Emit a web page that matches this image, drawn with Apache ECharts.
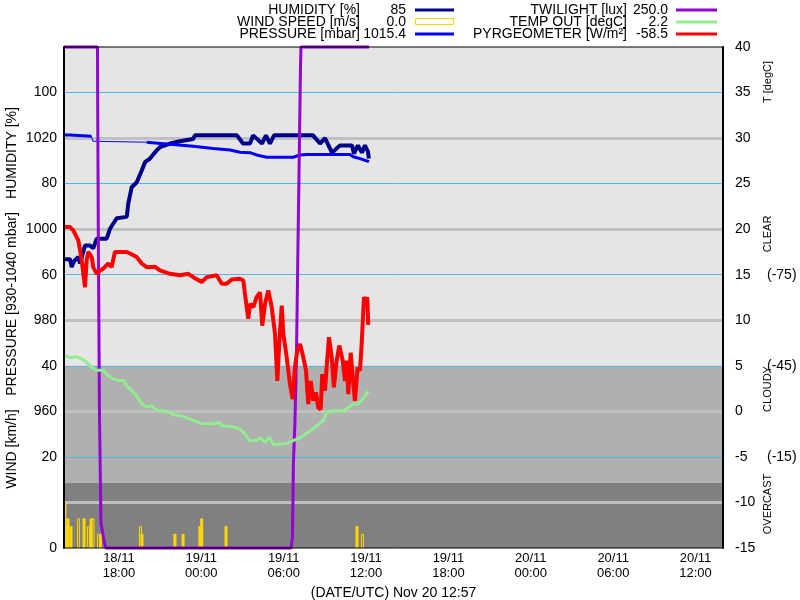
<!DOCTYPE html>
<html><head><meta charset="utf-8">
<script src="https://cdn.jsdelivr.net/npm/echarts@6/dist/echarts.min.js"></script>
<style>html,body{margin:0;padding:0;background:#fff}#c{width:800px;height:600px}</style>
</head><body><div id="c"></div>
<script>
// time in hours since 18/11 00:00 UTC
const xTickHours = [18, 24, 30, 36, 42, 48, 54, 60];
const xTickLabels = ['18/11\n18:00', '19/11\n00:00', '19/11\n06:00', '19/11\n12:00', '19/11\n18:00', '20/11\n00:00', '20/11\n06:00', '20/11\n12:00'];
const pressureTicks = [960, 980, 1000, 1020];
const pressureGrid = [940, 960, 980, 1000, 1020];
const humidityGrid = [20, 40, 60, 80, 100];
const pyrTicks = [-75, -45, -15];
const skyBands = [[-150, -45], [-45, -6.5], [-6.5, 15]];

const humTime = [14.0,14.22,14.44,14.56,14.66,14.8,15.04,15.17,15.53,15.89,16.13,16.38,17.11,17.35,17.84,18.57,18.68,18.93,19.3,19.66,19.9,20.26,20.75,20.99,21.72,22.45,23.4,23.54,26.6,27.04,27.55,27.77,28.42,28.71,29.0,29.3,32.14,32.65,33.01,33.52,34.1,34.98,35.12,35.41,35.7,35.92,36.14,36.21];
const humVal = [63.4,63.4,63.4,61.7,62.5,63.2,63.9,62.5,66.4,66.4,65.8,67.9,67.9,70.1,72.4,72.7,75.6,79.2,80.3,82.9,84.7,85.5,87.3,88.0,88.8,89.3,89.8,90.6,90.6,88.8,88.8,90.6,88.8,90.6,88.8,90.6,90.6,88.8,90.0,86.8,88.4,88.4,86.6,88.4,86.8,88.4,87.0,85.5];

const pressTime = [14.0,14.44,14.46,16.0,18.0,20.02,21.48,23.42,24.87,26.09,26.82,27.55,28.03,28.76,30.7,31.19,31.68,34.83,35.07,35.56,36.16,36.21];
const pressVal = [1020.7,1020.7,1020.4,1020.4,null,1019.1,1018.7,1018.2,1017.7,1017.4,1016.9,1016.8,1016.3,1015.8,1015.8,1016.3,1016.4,1016.4,1015.9,1015.5,1014.9,1014.8];
const pressGapTime = [16.0, 16.1, 20.02];
const pressGapVal = [1020.4, 1019.3, 1019.1];

const twTime = [14.0,16.44,16.45,16.51,16.58,16.69,16.88,16.99,17.06,30.53,30.64,30.71,30.82,30.93,31.04,31.15,31.22,31.26,36.21];
const twVal = [100,100,91,58,28,5,2,0.5,0,0,2,17,25,38,60,81,95,100,100];

const tempTime = [14.0,14.44,14.92,15.29,15.65,16.02,16.38,16.86,17.23,17.59,17.95,18.32,18.57,18.93,19.3,19.66,20.02,20.39,20.75,21.48,22.08,22.69,23.18,23.91,24.87,25.24,25.6,26.33,26.82,27.18,27.55,28.03,28.28,28.64,28.95,29.24,29.73,30.22,30.7,31.19,31.79,32.4,32.89,33.13,33.61,34.34,34.71,35.07,35.44,35.68,35.92,36.16];
const tempVal = [6.1,5.9,6.0,5.75,5.4,4.8,4.5,4.5,3.9,3.55,3.4,3.4,2.8,2.3,1.7,0.8,0.5,0.6,0.14,0.0,-0.4,-0.55,-0.85,-1.3,-1.4,-1.2,-1.6,-1.7,-1.95,-2.5,-3.2,-3.2,-2.9,-3.4,-2.8,-3.6,-3.6,-3.5,-3.2,-2.9,-2.3,-1.6,-1.0,-0.1,0.07,0.07,0.4,0.8,0.8,1.2,1.7,2.2];

const pyrTime = [14.0,14.2,14.44,14.68,15.04,15.17,15.29,15.41,15.53,15.65,15.77,16.02,16.13,16.38,16.62,16.86,17.23,17.47,17.71,18.57,18.81,19.3,19.66,20.02,20.63,20.99,21.72,22.45,23.05,23.42,24.03,24.4,25.12,25.49,25.85,26.21,26.82,27.06,27.18,27.42,27.55,27.79,28.03,28.28,28.44,28.64,28.88,29.13,29.37,29.54,29.66,29.86,29.98,30.22,30.34,30.46,30.66,30.82,30.99,31.19,31.43,31.63,31.79,31.97,32.16,32.35,32.52,32.7,32.81,33.01,33.13,33.3,33.5,33.66,33.86,34.05,34.3,34.47,34.59,34.71,34.88,35.03,35.19,35.39,35.56,35.68,35.85,36.0,36.09,36.16];
const pyrVal = [-90.7,-90.7,-90.7,-89.6,-86.3,-83,-79.7,-79.7,-70.9,-79.7,-82.5,-80.8,-77.5,-75.3,-76.4,-77,-78.7,-77.5,-82.5,-82.5,-82,-80.8,-78.7,-77.5,-77.6,-76.4,-75.3,-74.8,-75.3,-74.2,-72.6,-74.2,-74.8,-72,-72,-73.4,-73.7,-73.1,-68.7,-60.5,-65.4,-64.3,-67.6,-69.2,-58.2,-65.4,-69.8,-64.3,-55.5,-40,-51.1,-64.8,-55.5,-47.8,-43.4,-39,-34,-44.5,-50,-52.2,-47.8,-43.4,-32.4,-40,-33.5,-36.3,-31.2,-30.7,-42.3,-36.8,-44.5,-54.4,-47.8,-37.9,-46.7,-51.7,-46.7,-40,-46.7,-35.7,-49.3,-41.1,-33.5,-44.5,-43.4,-52.2,-67.6,-66.5,-67.6,-58.5];

const windTime = [14.07,14.25,14.29,14.51,15.06,15.46,15.78,15.97,16.11,16.51,16.66,19.57,19.68,22.08,22.67,23.9,24.03,25.8,35.34,35.74];
const windVal = [10.1,4.8,6.5,4.8,6.5,6.5,4.8,6.5,6.5,3.1,3.1,4.8,3.1,3.1,3.1,4.8,6.5,4.8,4.8,3.1];
const windHollow = [0,1,0,0,1,0,1,0,1,1,0,1,0,0,0,0,0,0,0,1];

const legendNames = ['HUMIDITY [%]', 'WIND SPEED [m/s]', 'PRESSURE [mbar]', 'TWILIGHT [lux]', 'TEMP OUT [degC]', 'PYRGEOMETER [W/m\u00B2]'];
const legendValues = ['85', '0.0', '1015.4', '250.0', '2.2', '-58.5'];
const legendColors = ['#00008b', '#ffd700', '#0000ff', '#9400d3', '#90ee90', '#ff0000'];

const FONT = 'Liberation Sans, Arial, sans-serif';
const pairs = (t, v) => t.map((x, i) => [x, v[i]]);

const chart = echarts.init(document.getElementById('c'), null, {renderer: 'canvas'});

const graphics = [];
legendNames.forEach((name, i) => {
  const col = i < 3 ? 0 : 1, row = i % 3;
  const y = 10 + row * 12;
  const nameRight = col === 0 ? 360 : 627;
  const valRight = col === 0 ? 406 : 668;
  const sx1 = col === 0 ? 415 : 676, sx2 = col === 0 ? 454 : 717;
  graphics.push({type: 'text', x: nameRight, y: y, style: {text: name, font: '14px ' + FONT, fill: '#000', align: 'right', verticalAlign: 'middle'}});
  graphics.push({type: 'text', x: valRight, y: y, style: {text: legendValues[i], font: '14px ' + FONT, fill: '#000', align: 'right', verticalAlign: 'middle'}});
  if (i === 1) {
    graphics.push({type: 'rect', shape: {x: sx1 + 0.5, y: y - 3.5, width: sx2 - sx1 - 1, height: 6}, style: {fill: 'none', stroke: legendColors[i], lineWidth: 1}});
  } else {
    graphics.push({type: 'line', shape: {x1: sx1, y1: y, x2: sx2, y2: y}, style: {stroke: legendColors[i], lineWidth: 3}});
  }
});
const rotTexts = [
  ['HUMIDITY [%]', 12, 153, 14], ['PRESSURE [930-1040 mbar]', 12, 304, 14], ['WIND [km/h]', 12, 449, 14],
  ['T [degC]', 768, 82, 11], ['CLEAR', 768, 234, 11], ['CLOUDY', 768, 389, 11], ['OVERCAST', 768, 504, 11]
];
rotTexts.forEach(([t, x, y, fs]) => {
  graphics.push({type: 'text', x: x, y: y, rotation: Math.PI / 2, style: {text: t, font: fs + 'px ' + FONT, fill: '#000', align: 'center', verticalAlign: 'middle'}});
});

const option = {
  animation: false,
  backgroundColor: '#fff',
  grid: {left: 64, top: 47, right: 77, bottom: 52, outerBoundsMode: 'none', containLabel: false, show: true, borderColor: '#000', borderWidth: 1, z: 10, backgroundColor: 'transparent'},
  xAxis: {
    type: 'value', min: 14, max: 62,
    axisLine: {show: false}, axisTick: {show: false}, splitLine: {show: false},
    axisLabel: {customValues: xTickHours, formatter: v => xTickLabels[xTickHours.indexOf(v)], color: '#000', fontFamily: FONT, fontSize: 13, lineHeight: 15, margin: 3},
    name: '(DATE/UTC) Nov 20 12:57', nameLocation: 'middle', nameGap: 35,
    nameTextStyle: {color: '#000', fontFamily: FONT, fontSize: 14}
  },
  yAxis: [
    { // 0 humidity / wind
      type: 'value', position: 'left', min: 0, max: 110, interval: 20,
      axisLine: {show: true, lineStyle: {color: '#000', width: 2}}, axisTick: {show: false}, splitLine: {show: false},
      axisLabel: {showMaxLabel: false, color: '#000', fontFamily: FONT, fontSize: 14, margin: 7}, z: 10
    },
    { // 1 pressure
      type: 'value', position: 'left', min: 930, max: 1040,
      axisLine: {show: false}, axisTick: {show: false}, splitLine: {show: false},
      axisLabel: {customValues: pressureTicks, formatter: v => String(v), color: '#000', fontFamily: FONT, fontSize: 14, margin: 7}
    },
    { // 2 temperature
      type: 'value', position: 'right', min: -15, max: 40, interval: 5,
      axisLine: {show: true, lineStyle: {color: '#000', width: 2}}, axisTick: {show: false}, splitLine: {show: false},
      axisLabel: {color: '#000', fontFamily: FONT, fontSize: 14, margin: 12}, z: 10
    },
    { // 3 pyrgeometer (inverted)
      type: 'value', position: 'right', offset: 40, inverse: true, min: -150, max: 15,
      axisLine: {show: false}, axisTick: {show: false}, splitLine: {show: false},
      axisLabel: {customValues: pyrTicks, formatter: v => '(' + v + ')', color: '#000', fontFamily: FONT, fontSize: 14, margin: 4}
    },
    { // 4 twilight
      type: 'value', show: false, min: 0, max: 100
    }
  ],
  graphic: graphics,
  series: [
    {
      type: 'line', yAxisIndex: 3, data: [], silent: true,
      markArea: {silent: true, z: 1, data: skyBands.map((b, i) => [{yAxis: b[0], itemStyle: {color: ['#e5e5e5', '#b0b0b0', '#808080'][i]}}, {yAxis: b[1]}])}
    },
    {
      type: 'line', yAxisIndex: 0, data: [], silent: true,
      markLine: {silent: true, z: 2, symbol: 'none', label: {show: false}, lineStyle: {color: '#56b4e9', width: 1, type: 'solid'}, data: humidityGrid.map(v => ({yAxis: v}))}
    },
    {
      type: 'line', yAxisIndex: 1, data: [], silent: true,
      markLine: {silent: true, z: 2, symbol: 'none', label: {show: false}, lineStyle: {color: '#c0c0c0', width: 3, type: 'solid'}, data: pressureGrid.map(v => ({yAxis: v}))}
    },
    {
      name: 'WIND', type: 'bar', yAxisIndex: 0, z: 3, barWidth: 3,
      data: windTime.map((t, i) => ({value: [t, windVal[i]], itemStyle: windHollow[i] ? {color: 'rgba(0,0,0,0)', borderColor: '#ffd700', borderWidth: 1} : {color: '#ffd700'}}))
    },
    {
      name: 'HUMIDITY', type: 'line', yAxisIndex: 0, z: 4, symbol: 'none',
      lineStyle: {color: '#00008b', width: 4}, data: pairs(humTime, humVal)
    },
    {
      name: 'PRESSURE', type: 'line', yAxisIndex: 1, z: 5, symbol: 'none', connectNulls: false,
      lineStyle: {color: '#0000ff', width: 3}, data: pairs(pressTime, pressVal)
    },
    {
      name: 'PRESSURE GAP', type: 'line', yAxisIndex: 1, z: 5, symbol: 'none',
      lineStyle: {color: '#0000ff', width: 1}, data: pairs(pressGapTime, pressGapVal)
    },
    {
      name: 'TWILIGHT', type: 'line', yAxisIndex: 4, z: 6, symbol: 'none', clip: false,
      lineStyle: {color: '#9400d3', width: 3}, data: pairs(twTime, twVal)
    },
    {
      name: 'TEMP', type: 'line', yAxisIndex: 2, z: 7, symbol: 'none',
      lineStyle: {color: '#90ee90', width: 3}, data: pairs(tempTime, tempVal)
    },
    {
      name: 'PYR', type: 'line', yAxisIndex: 3, z: 8, symbol: 'none',
      lineStyle: {color: '#ff0000', width: 4}, data: pairs(pyrTime, pyrVal)
    }
  ]
};
chart.setOption(option);
</script></body></html>
